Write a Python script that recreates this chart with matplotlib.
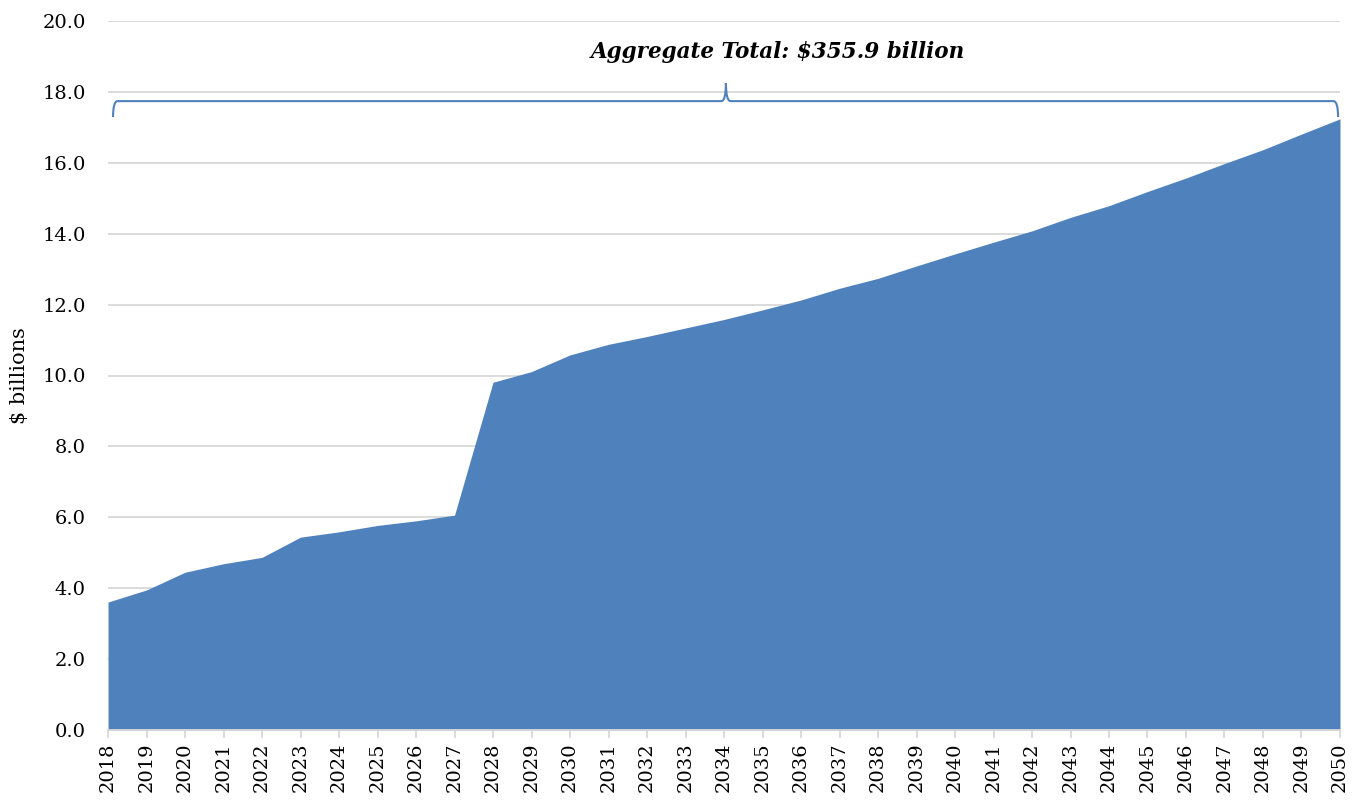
import matplotlib.pyplot as plt
from matplotlib.path import Path
from matplotlib.patches import PathPatch

years = list(range(2018, 2051))
spending = [
    3.61, 3.95, 4.45, 4.69, 4.87, 5.44, 5.59, 5.77, 5.90, 6.06,
    9.81, 10.11, 10.58, 10.88, 11.10, 11.34, 11.58, 11.85, 12.13, 12.46,
    12.74, 13.09, 13.43, 13.76, 14.08, 14.46, 14.79, 15.19, 15.57, 15.98,
    16.37, 16.81, 17.24,
]
y_ticks = [0, 2, 4, 6, 8, 10, 12, 14, 16, 18, 20]
total_label = "Aggregate Total: $355.9 billion"

plt.rcParams["font.family"] = ["DejaVu Serif"]

fig = plt.figure(figsize=(13.64, 8), dpi=100)
ax = fig.add_axes([0.0792, 0.0875, 0.9032, 0.88625])

ax.fill_between(years, spending, 0, color="#4F81BD", linewidth=0, zorder=2)

ax.set_xlim(years[0], years[-1])
ax.set_ylim(0, 20)
ax.set_yticks(y_ticks)
ax.set_yticklabels([f"{v:.1f}" for v in y_ticks], fontsize=14)
ax.set_xticks(years)
ax.set_xticklabels([str(y) for y in years], rotation=90, fontsize=14)
ax.set_ylabel("$ billions", fontsize=15, labelpad=10)

ax.grid(axis="y", color="#D9D9D9", linewidth=1.3, zorder=0)
ax.set_axisbelow(True)
for side in ("left", "right", "top"):
    ax.spines[side].set_visible(False)
ax.spines["bottom"].set_color("#D9D9D9")
ax.spines["bottom"].set_linewidth(1.3)
ax.spines["bottom"].set_zorder(3)
ax.tick_params(axis="y", length=0, pad=16)
ax.tick_params(axis="x", length=6, color="#D9D9D9", width=1.3, pad=3)

# curly brace spanning the whole period
x0, x1, xm = 2018.13, 2049.95, 2034.05
y_end, y_bar, y_peak = 17.29, 17.74, 18.25
r = 0.12
verts = [
    (x0, y_end), (x0, y_bar), (x0 + r, y_bar),
    (xm - r, y_bar), (xm, y_bar), (xm, y_peak),
    (xm, y_bar), (xm + r, y_bar),
    (x1 - r, y_bar), (x1, y_bar), (x1, y_end),
]
codes = [
    Path.MOVETO, Path.CURVE3, Path.CURVE3,
    Path.LINETO, Path.CURVE3, Path.CURVE3,
    Path.CURVE3, Path.CURVE3,
    Path.LINETO, Path.CURVE3, Path.CURVE3,
]
ax.add_patch(PathPatch(Path(verts, codes), facecolor="none",
                       edgecolor="#4F81BD", linewidth=1.5, zorder=4))

ax.text(2035.4, 19.13, total_label, ha="center", va="center",
        fontsize=15.5, fontweight="bold", fontstyle="italic")

fig.savefig("out.png", dpi=100)
